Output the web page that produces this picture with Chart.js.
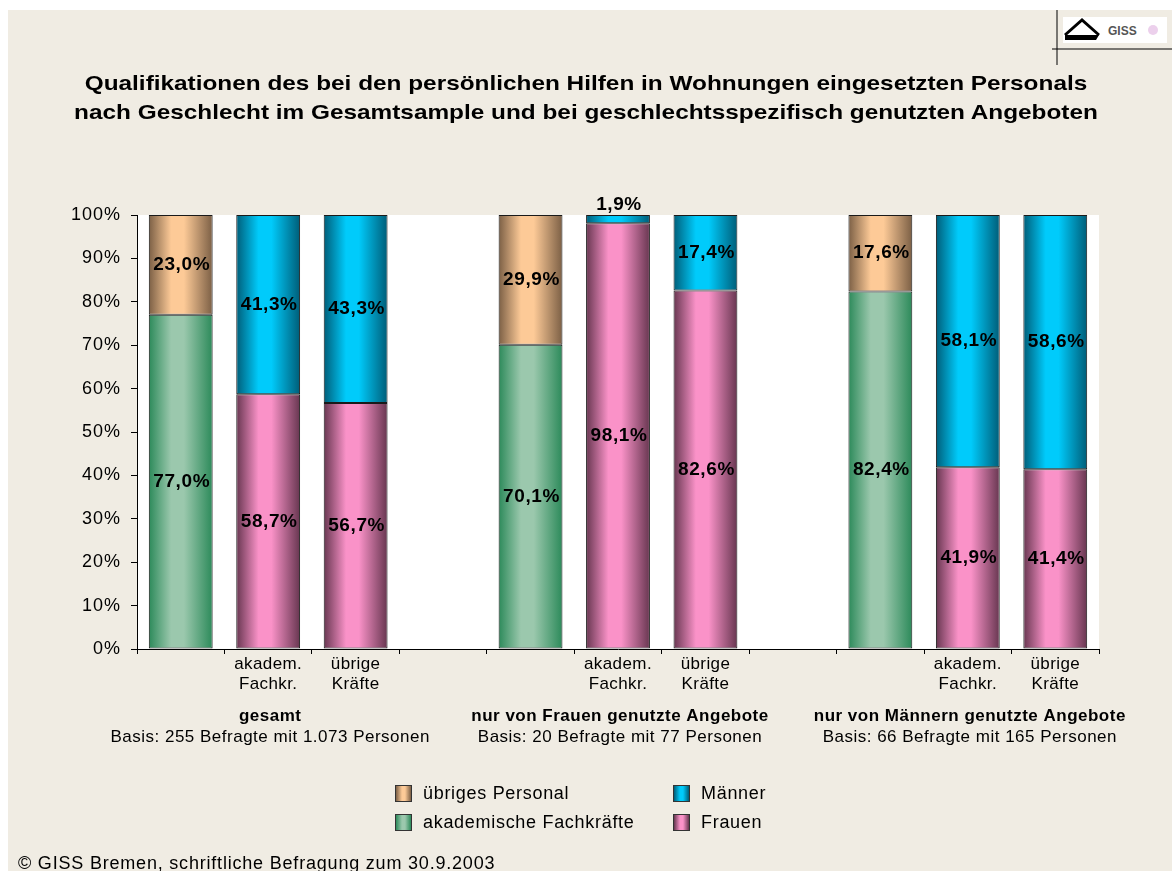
<!DOCTYPE html>
<html lang="de">
<head>
  <meta charset="UTF-8" />
  <title>Qualifikationen des Personals</title>
  <style>
    body {
      margin: 0;
      background: #ffffff;
      font-family: 'Liberation Sans', Arial, sans-serif;
      color: #000;
    }
    .frame {
      position: absolute;
      left: 8px;
      top: 10px;
      width: 1164px;
      height: 861px;
      background: #f0ece3;
      overflow: hidden;
    }
    #chart {
      position: absolute;
      left: 0;
      top: 0;
    }
    .title {
      position: absolute;
      left: 0;
      top: 68px;
      width: 1172px;
      text-align: center;
      font-size: 21px;
      font-weight: bold;
      line-height: 29px;
      transform: scaleX(1.16);
      transform-origin: 586px 0;
    }
    .logo {
      position: absolute;
      left: 1052px;
      top: 10px;
      width: 120px;
      height: 55px;
    }
    .legend {
      position: absolute;
      left: 395px;
      top: 783px;
      display: grid;
      grid-template-columns: 278px 150px;
      row-gap: 9px;
      font-size: 18px;
      letter-spacing: 0.7px;
    }
    .legend .item {
      display: flex;
      align-items: center;
      height: 20px;
    }
    .legend .box {
      width: 15px;
      height: 15px;
      border: 1px solid #333;
      margin-right: 11px;
    }
    .footer {
      position: absolute;
      left: 18px;
      top: 853px;
      font-size: 18px;
      letter-spacing: 0.8px;
      white-space: nowrap;
    }
  </style>
</head>
<body>
  <div class="frame"></div>
  <canvas id="chart" width="1172" height="871"></canvas>

  <div class="title">
    Qualifikationen des bei den persönlichen Hilfen in Wohnungen eingesetzten Personals<br>
    nach Geschlecht im Gesamtsample und bei geschlechtsspezifisch genutzten Angeboten
  </div>

  <svg class="logo" viewBox="0 0 120 55">
    <line x1="5" y1="0" x2="5" y2="55" stroke="#000" stroke-width="1"/>
    <line x1="0" y1="39" x2="120" y2="39" stroke="#000" stroke-width="1"/>
    <rect x="11" y="7" width="104" height="26" fill="#ffffff"/>
    <polyline points="13,25 30,10 47,25" fill="none" stroke="#000" stroke-width="3"/>
    <polygon points="13,25 47,25 44,30 13,30" fill="#000"/>
    <text x="56" y="25" font-family="Liberation Sans, Arial" font-weight="bold" font-size="12" fill="#555">GISS</text>
    <circle cx="101" cy="20" r="5" fill="#ecd0ec"/>
  </svg>

  <div class="legend" id="legend"></div>

  <div class="footer">© GISS Bremen, schriftliche Befragung zum 30.9.2003</div>

  <script src="https://cdn.jsdelivr.net/npm/chart.js"></script>
  <script>
    // categories (11 slots, two empty spacers between the groups)
    const categories = [
      '', ['akadem.', 'Fachkr.'], ['übrige', 'Kräfte'], '',
      '', ['akadem.', 'Fachkr.'], ['übrige', 'Kräfte'], '',
      '', ['akadem.', 'Fachkr.'], ['übrige', 'Kräfte']
    ];

    // series values in percent
    const akademisch = [77.0, null, null, null, 70.1, null, null, null, 82.4, null, null];
    const frauen     = [null, 58.7, 56.7, null, null, 98.1, 82.6, null, null, 41.9, 41.4];
    const uebrige    = [23.0, null, null, null, 29.9, null, null, null, 17.6, null, null];
    const maenner    = [null, 41.3, 43.3, null, null, 1.9, 17.4, null, null, 58.1, 58.6];

    // group captions below the axis
    const groupTitles = ['gesamt', 'nur von Frauen genutzte Angebote', 'nur von Männern genutzte Angebote'];
    const groupBases = [
      'Basis: 255 Befragte mit 1.073 Personen',
      'Basis: 20 Befragte mit 77 Personen',
      'Basis: 66 Befragte mit 165 Personen'
    ];
    const groupAt = [1, 5, 9];

    const yTicks = [0, 10, 20, 30, 40, 50, 60, 70, 80, 90, 100];

    const FONT = "'Liberation Sans', Arial, sans-serif";
    const BAR_PCT = 0.73;

    // light / dark tones for the cylinder shading
    const tones = {
      green: ['#9bc8ad', '#2c8a5a'],
      pink:  ['#fa92c8', '#673650'],
      tan:   ['#fdca97', '#7b5f45'],
      blue:  ['#00cbfb', '#005d78']
    };

    function shade(tone) {
      return function (ctx) {
        const chart = ctx.chart;
        const area = chart.chartArea;
        if (!area || ctx.dataIndex === undefined) return tone[0];
        const x = chart.scales.x.getPixelForValue(ctx.dataIndex);
        const w = (area.right - area.left) / categories.length * BAR_PCT;
        const g = chart.ctx.createLinearGradient(x - w / 2, 0, x + w / 2, 0);
        g.addColorStop(0, tone[1]);
        g.addColorStop(0.35, tone[0]);
        g.addColorStop(0.55, tone[0]);
        g.addColorStop(1, tone[1]);
        return g;
      };
    }

    const fmt = v => v.toFixed(1).replace('.', ',') + '%';

    const plotBg = {
      id: 'plotBg',
      beforeDraw(chart) {
        const a = chart.chartArea, c = chart.ctx;
        c.save();
        c.fillStyle = '#ffffff';
        c.fillRect(a.left, a.top, a.right - a.left, a.bottom - a.top);
        c.restore();
      }
    };

    // the reference text is drawn a little wider, so add letter spacing to the axis labels
    const spacing = {
      id: 'spacing',
      afterLayout(chart) {
        [['x', '0.4px'], ['y', '1px']].forEach(([id, ls]) => {
          const s = chart.scales[id];
          if (s._spaced) return;
          const orig = s.drawLabels;
          s.drawLabels = function (area) {
            const c = this.ctx;
            c.save();
            c.letterSpacing = ls;
            orig.call(this, area);
            c.restore();
          };
          s._spaced = true;
        });
      }
    };

    const valueLabels = {
      id: 'valueLabels',
      afterDatasetsDraw(chart) {
        const c = chart.ctx;
        c.save();
        c.font = 'bold 19px ' + FONT;
        c.letterSpacing = '0.6px';
        c.fillStyle = '#000';
        c.textAlign = 'center';
        c.textBaseline = 'middle';
        chart.data.datasets.forEach((ds, i) => {
          chart.getDatasetMeta(i).data.forEach((bar, j) => {
            const v = ds.data[j];
            if (v === null) return;
            const y = v < 5 ? bar.y - 10 : (bar.y + bar.base) / 2;
            c.fillText(fmt(v), bar.x + 1, y);
          });
        });
        c.restore();
      }
    };

    const groupLabels = {
      id: 'groupLabels',
      afterDraw(chart) {
        const c = chart.ctx, xs = chart.scales.x;
        c.save();
        c.fillStyle = '#000';
        c.textAlign = 'center';
        c.textBaseline = 'middle';
        c.letterSpacing = '0.5px';
        groupAt.forEach((idx, k) => {
          const x = xs.getPixelForValue(idx) + 2;
          c.font = 'bold 17px ' + FONT;
          c.fillText(groupTitles[k], x, 716);
          c.font = '17px ' + FONT;
          c.fillText(groupBases[k], x, 737);
        });
        c.restore();
      }
    };

    const datasets = [
      { label: 'akademische Fachkräfte', data: akademisch, tone: tones.green },
      { label: 'Frauen', data: frauen, tone: tones.pink },
      { label: 'übriges Personal', data: uebrige, tone: tones.tan },
      { label: 'Männer', data: maenner, tone: tones.blue }
    ];

    new Chart(document.getElementById('chart'), {
      type: 'bar',
      data: {
        labels: categories,
        datasets: datasets.map(d => ({
          label: d.label,
          data: d.data,
          backgroundColor: shade(d.tone),
          borderColor: '#1a1a1a',
          borderWidth: 1,
          borderSkipped: false,
          barPercentage: BAR_PCT,
          categoryPercentage: 1,
          skipNull: false
        }))
      },
      options: {
        responsive: false,
        animation: false,
        layout: { padding: { top: 215, right: 73, left: 0, bottom: 0 } },
        plugins: {
          legend: { display: false },
          tooltip: { enabled: false }
        },
        scales: {
          x: {
            stacked: true,
            afterFit(s) { s.height = 222; },
            border: { color: '#000', width: 1 },
            grid: { offset: true, drawOnChartArea: false, drawTicks: true, tickLength: 5, color: '#000' },
            ticks: {
              color: '#000',
              padding: 1,
              maxRotation: 0,
              autoSkip: false,
              font: { family: FONT, size: 17, lineHeight: 1.15 }
            }
          },
          y: {
            stacked: true,
            min: 0,
            max: 100,
            afterFit(s) { s.width = 137; },
            afterBuildTicks(s) { s.ticks = yTicks.map(v => ({ value: v })); },
            border: { color: '#000', width: 1 },
            grid: { drawOnChartArea: false, drawTicks: true, tickLength: 6, color: '#000' },
            ticks: {
              color: '#000',
              padding: 10,
              font: { family: FONT, size: 18 },
              callback: v => v + '%'
            }
          }
        }
      },
      plugins: [plotBg, spacing, valueLabels, groupLabels]
    });

    // legend in the reference order (two columns)
    const legendOrder = [2, 3, 0, 1];
    const legend = document.getElementById('legend');
    legendOrder.forEach(i => {
      const d = datasets[i];
      const item = document.createElement('div');
      item.className = 'item';
      const box = document.createElement('span');
      box.className = 'box';
      box.style.background = 'linear-gradient(to right, ' + d.tone[1] + ', ' + d.tone[0] + ' 40%, ' + d.tone[0] + ' 60%, ' + d.tone[1] + ')';
      item.appendChild(box);
      item.appendChild(document.createTextNode(d.label));
      legend.appendChild(item);
    });
  </script>
</body>
</html>
